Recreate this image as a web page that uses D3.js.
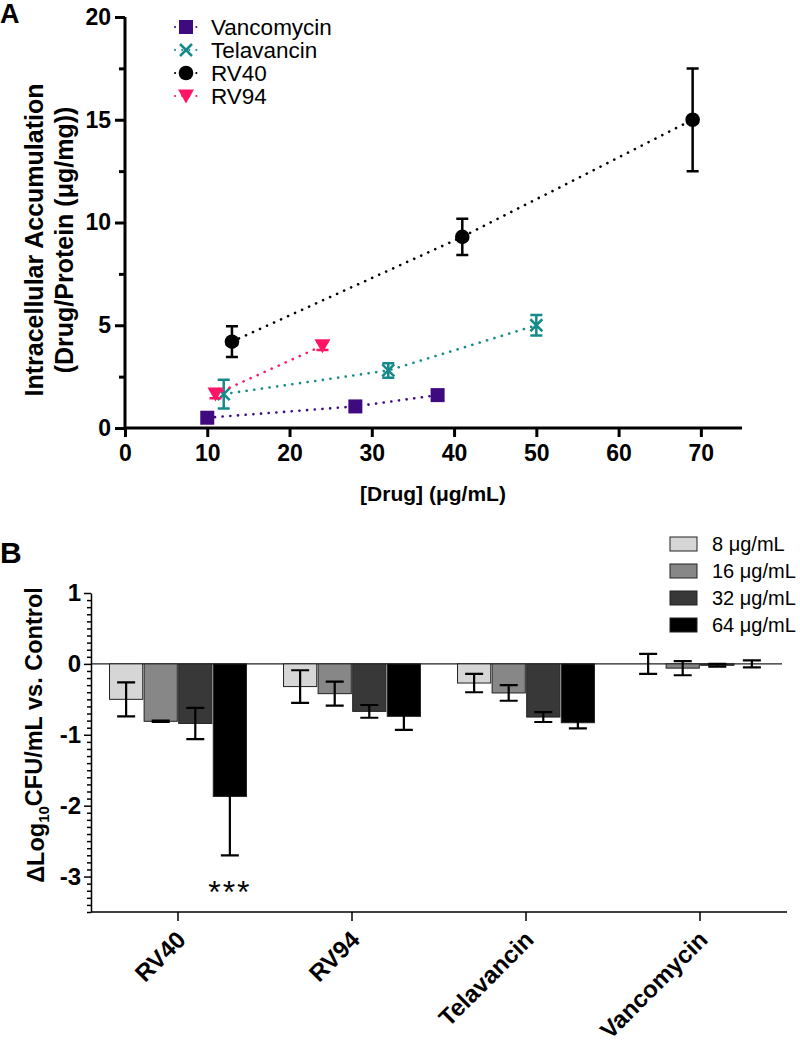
<!DOCTYPE html>
<html><head><meta charset="utf-8">
<script src="https://cdn.jsdelivr.net/npm/d3@7"></script>
<style>
body{margin:0;background:#fff;}
svg{display:block;font-family:"Liberation Sans",Arial,sans-serif;}
</style></head>
<body><svg id="c" width="800" height="1044"></svg>
<script>
// ---------- Panel A data ----------
const seriesNames = ["Vancomycin","Telavancin","RV40","RV94"];
const vancoX = [10, 28, 38], vancoY = [0.5, 1.05, 1.6], vancoErr = [0.12, 0.15, 0.12];
const telaX = [12, 32, 50], telaY = [1.65, 2.8, 5.0], telaErr = [0.7, 0.35, 0.5];
const rv40X = [13, 41, 69], rv40Y = [4.2, 9.3, 15.0], rv40Err = [0.75, 0.88, 2.5];
const rv94X = [11, 24], rv94Y = [1.65, 4.0], rv94Err = [0.2, 0.2];
const xTicksA = [0,10,20,30,40,50,60,70];
const yTicksA = [0,5,10,15,20];
const yMinorA = [2.5,7.5,12.5,17.5];

// ---------- Panel B data ----------
const categories = ["RV40","RV94","Telavancin","Vancomycin"];
const concLabels = ["8 μg/mL","16 μg/mL","32 μg/mL","64 μg/mL"];
const c8  = [-0.50, -0.32, -0.27, 0.00];
const c16 = [-0.81, -0.42, -0.41, -0.06];
const c32 = [-0.84, -0.67, -0.75, -0.02];
const c64 = [-1.87, -0.74, -0.83, 0.00];
const e8  = [0.24, 0.23, 0.13, 0.14];
const e16 = [0.01, 0.17, 0.11, 0.10];
const e32 = [0.22, 0.09, 0.07, 0.02];
const e64 = [0.83, 0.19, 0.08, 0.05];
const yTicksB = [-3,-2,-1,0,1];

const svg = d3.select("#c");

// ================= PANEL A =================
const colA = {Vancomycin:"#3f0a80", Telavancin:"#168a8a", RV40:"#000000", RV94:"#ff1466"};
const xA = d3.scaleLinear().domain([0,75]).range([125,742]);
const yA = d3.scaleLinear().domain([0,20]).range([428,17]);

const gA = svg.append("g");
const yAx = gA.append("g").attr("transform","translate(125,0)")
  .call(d3.axisLeft(yA).tickValues(yTicksA).tickSize(10).tickSizeOuter(0).tickPadding(4));
const yAxm = gA.append("g").attr("transform","translate(125,0)")
  .call(d3.axisLeft(yA).tickValues(yMinorA).tickSize(6).tickSizeOuter(0).tickFormat(""));
yAxm.select(".domain").remove();
const xAx = gA.append("g").attr("transform","translate(0,428)")
  .call(d3.axisBottom(xA).tickValues(xTicksA).tickSize(9).tickSizeOuter(0).tickPadding(8));
[yAx,yAxm,xAx].forEach(g=>{
  g.selectAll("path,line").attr("stroke","#000").attr("stroke-width",3);
  g.selectAll("text").attr("font-size",23).attr("font-weight","bold").attr("fill","#000");
});
yAx.select(".domain").attr("d","M0,17V428");
xAx.select(".domain").attr("d","M125,0H742");

gA.append("text").attr("x",0).attr("y",23).attr("font-size",27).attr("font-weight","bold").text("A");
const ytA = gA.append("text").attr("transform","translate(34,240) rotate(-90)")
  .attr("text-anchor","middle").attr("font-size",25).attr("font-weight","bold");
ytA.append("tspan").attr("x",0).attr("dy","0.35em").text("Intracellular Accumulation");
ytA.append("tspan").attr("x",0).attr("dy","1.2em").text("(Drug/Protein (μg/mg))");
gA.append("text").attr("x",433).attr("y",501).attr("text-anchor","middle")
  .attr("font-size",21).attr("font-weight","bold").text("[Drug] (μg/mL)");

const seriesA = [
  {name:"Vancomycin", x:vancoX, y:vancoY, e:vancoErr, sym:"square"},
  {name:"Telavancin", x:telaX, y:telaY, e:telaErr, sym:"x"},
  {name:"RV40", x:rv40X, y:rv40Y, e:rv40Err, sym:"circle"},
  {name:"RV94", x:rv94X, y:rv94Y, e:rv94Err, sym:"tri"}
];
function drawMarker(g, sym, cx, cy, col){
  if(sym==="square") g.append("rect").attr("x",cx-7).attr("y",cy-7).attr("width",14).attr("height",14).attr("fill",col);
  else if(sym==="circle") g.append("circle").attr("cx",cx).attr("cy",cy).attr("r",7.3).attr("fill",col);
  else if(sym==="tri") g.append("path").attr("d",`M${cx-8},${cy-6.5}L${cx+8},${cy-6.5}L${cx},${cy+7.5}Z`).attr("fill",col);
  else if(sym==="x") g.append("path").attr("d",`M${cx-6},${cy-6}L${cx+6},${cy+6}M${cx-6},${cy+6}L${cx+6},${cy-6}`)
      .attr("stroke",col).attr("stroke-width",2.5).attr("fill","none");
}
const line = d3.line().x(d=>xA(d[0])).y(d=>yA(d[1]));
seriesA.forEach(s=>{
  const col = colA[s.name];
  const pts = s.x.map((v,i)=>[v,s.y[i]]);
  gA.append("path").attr("d",line(pts)).attr("fill","none").attr("stroke",col)
    .attr("stroke-width",2.6).attr("stroke-linecap","round").attr("stroke-dasharray","0.1 7.6");
  pts.forEach((p,i)=>{
    const cx = xA(p[0]), e = s.e[i];
    const y1 = yA(p[1]+e), y2 = yA(p[1]-e);
    gA.append("path").attr("d",`M${cx},${y1}V${y2}M${cx-6},${y1}H${cx+6}M${cx-6},${y2}H${cx+6}`)
      .attr("stroke",col).attr("stroke-width",2.5).attr("fill","none");
    drawMarker(gA, s.sym, cx, yA(p[1]), col);
  });
});
seriesA.forEach((s,i)=>{
  const cy = 27 + i*23, col = colA[s.name];
  gA.append("path").attr("d",`M175,${cy}H197`).attr("stroke",col).attr("stroke-width",2)
    .attr("stroke-linecap","round").attr("stroke-dasharray","0.1 7");
  drawMarker(gA, s.sym, 186, cy, col);
  gA.append("text").attr("x",211).attr("y",cy).attr("dy","0.36em").attr("font-size",22.5).text(s.name);
});

// ================= PANEL B =================
const gB = svg.append("g");
const barCols = ["#d6d6d6","#878787","#383838","#000000"];
const vals = [c8,c16,c32,c64], errs = [e8,e16,e32,e64];
const yB = d3.scaleLinear().domain([-3.5,1]).range([912,593]);
const x0 = d3.scaleBand().domain(categories).range([91,787]).paddingInner(0.213).paddingOuter(0.1065);
const x1 = d3.scaleBand().domain(concLabels).range([0,x0.bandwidth()]).paddingInner(0.04);

gB.append("text").attr("x",0).attr("y",563).attr("font-size",30).attr("font-weight","bold").text("B");

gB.append("line").attr("x1",91).attr("x2",782).attr("y1",yB(0)).attr("y2",yB(0)).attr("stroke","#222").attr("stroke-width",1.2);

categories.forEach((cat,ci)=>{
  concLabels.forEach((cl,si)=>{
    const v = vals[si][ci];
    const bx = x0(cat)+x1(cl);
    gB.append("rect").attr("x",bx).attr("width",x1.bandwidth())
      .attr("y",Math.min(yB(0),yB(v))).attr("height",Math.abs(yB(v)-yB(0)))
      .attr("fill",barCols[si]).attr("stroke","#222").attr("stroke-width",1);
  });
});
categories.forEach((cat,ci)=>{
  concLabels.forEach((cl,si)=>{
    const v = vals[si][ci], e = errs[si][ci];
    const cx = x0(cat)+x1(cl)+x1.bandwidth()/2;
    const y1 = yB(v+e), y2 = yB(v-e);
    gB.append("path").attr("d",`M${cx},${y1}V${y2}M${cx-9},${y1}H${cx+9}M${cx-9},${y2}H${cx+9}`)
      .attr("stroke","#000").attr("stroke-width",2.2).attr("fill","none");
  });
});
{
  const cx = x0("RV40")+x1(concLabels[3])+x1.bandwidth()/2;
  gB.append("text").attr("x",cx).attr("y",yB(-2.71)+47).attr("text-anchor","middle")
    .attr("font-size",32).attr("letter-spacing",2).text("***");
}

const yBx = gB.append("g").attr("transform","translate(91,0)")
  .call(d3.axisLeft(yB).tickValues(yTicksB).tickSize(7).tickSizeOuter(0).tickPadding(3).tickFormat(d3.format("d")));
const minorB = d3.range(-35,11).map(d=>d/10).filter(d=>Math.abs(d-Math.round(d))>1e-6);
const yBm = gB.append("g").attr("transform","translate(91,0)")
  .call(d3.axisLeft(yB).tickValues(minorB).tickSize(4).tickSizeOuter(0).tickFormat(""));
yBm.select(".domain").remove();
[yBx,yBm].forEach(g=>{
  g.selectAll("path,line").attr("stroke","#000").attr("stroke-width",1.5);
  g.selectAll("text").attr("font-size",24).attr("font-weight","bold").attr("fill","#000");
});
yBx.selectAll("text").text(d=>d<0?"-"+Math.abs(d):d);

gB.append("line").attr("x1",91).attr("x2",787).attr("y1",912).attr("y2",912).attr("stroke","#000").attr("stroke-width",1.5);
categories.forEach(cat=>{
  const cx = x0(cat)+x0.bandwidth()/2;
  gB.append("line").attr("x1",cx).attr("x2",cx).attr("y1",912).attr("y2",921).attr("stroke","#000").attr("stroke-width",1.5);
  gB.append("text").attr("transform",`translate(${cx-3},${929}) rotate(-45)`).attr("text-anchor","end")
    .attr("dy","0.72em").attr("font-size",24).attr("font-weight","bold").text(cat);
});

const ytB = gB.append("text").attr("transform","translate(36,735) rotate(-90)")
  .attr("text-anchor","middle").attr("dy","0.35em").attr("font-size",23.5).attr("font-weight","bold");
ytB.append("tspan").text("ΔLog");
ytB.append("tspan").attr("font-size",15).attr("dy","0.3em").text("10");
ytB.append("tspan").attr("dy","-0.3em").text("CFU/mL vs. Control");

concLabels.forEach((cl,i)=>{
  const cy = 544 + i*27;
  gB.append("rect").attr("x",670).attr("y",cy-7).attr("width",27).attr("height",14)
    .attr("fill",barCols[i]).attr("stroke","#222").attr("stroke-width",1);
  gB.append("text").attr("x",712).attr("y",cy).attr("dy","0.36em").attr("font-size",20).text(cl);
});
</script></body></html>
